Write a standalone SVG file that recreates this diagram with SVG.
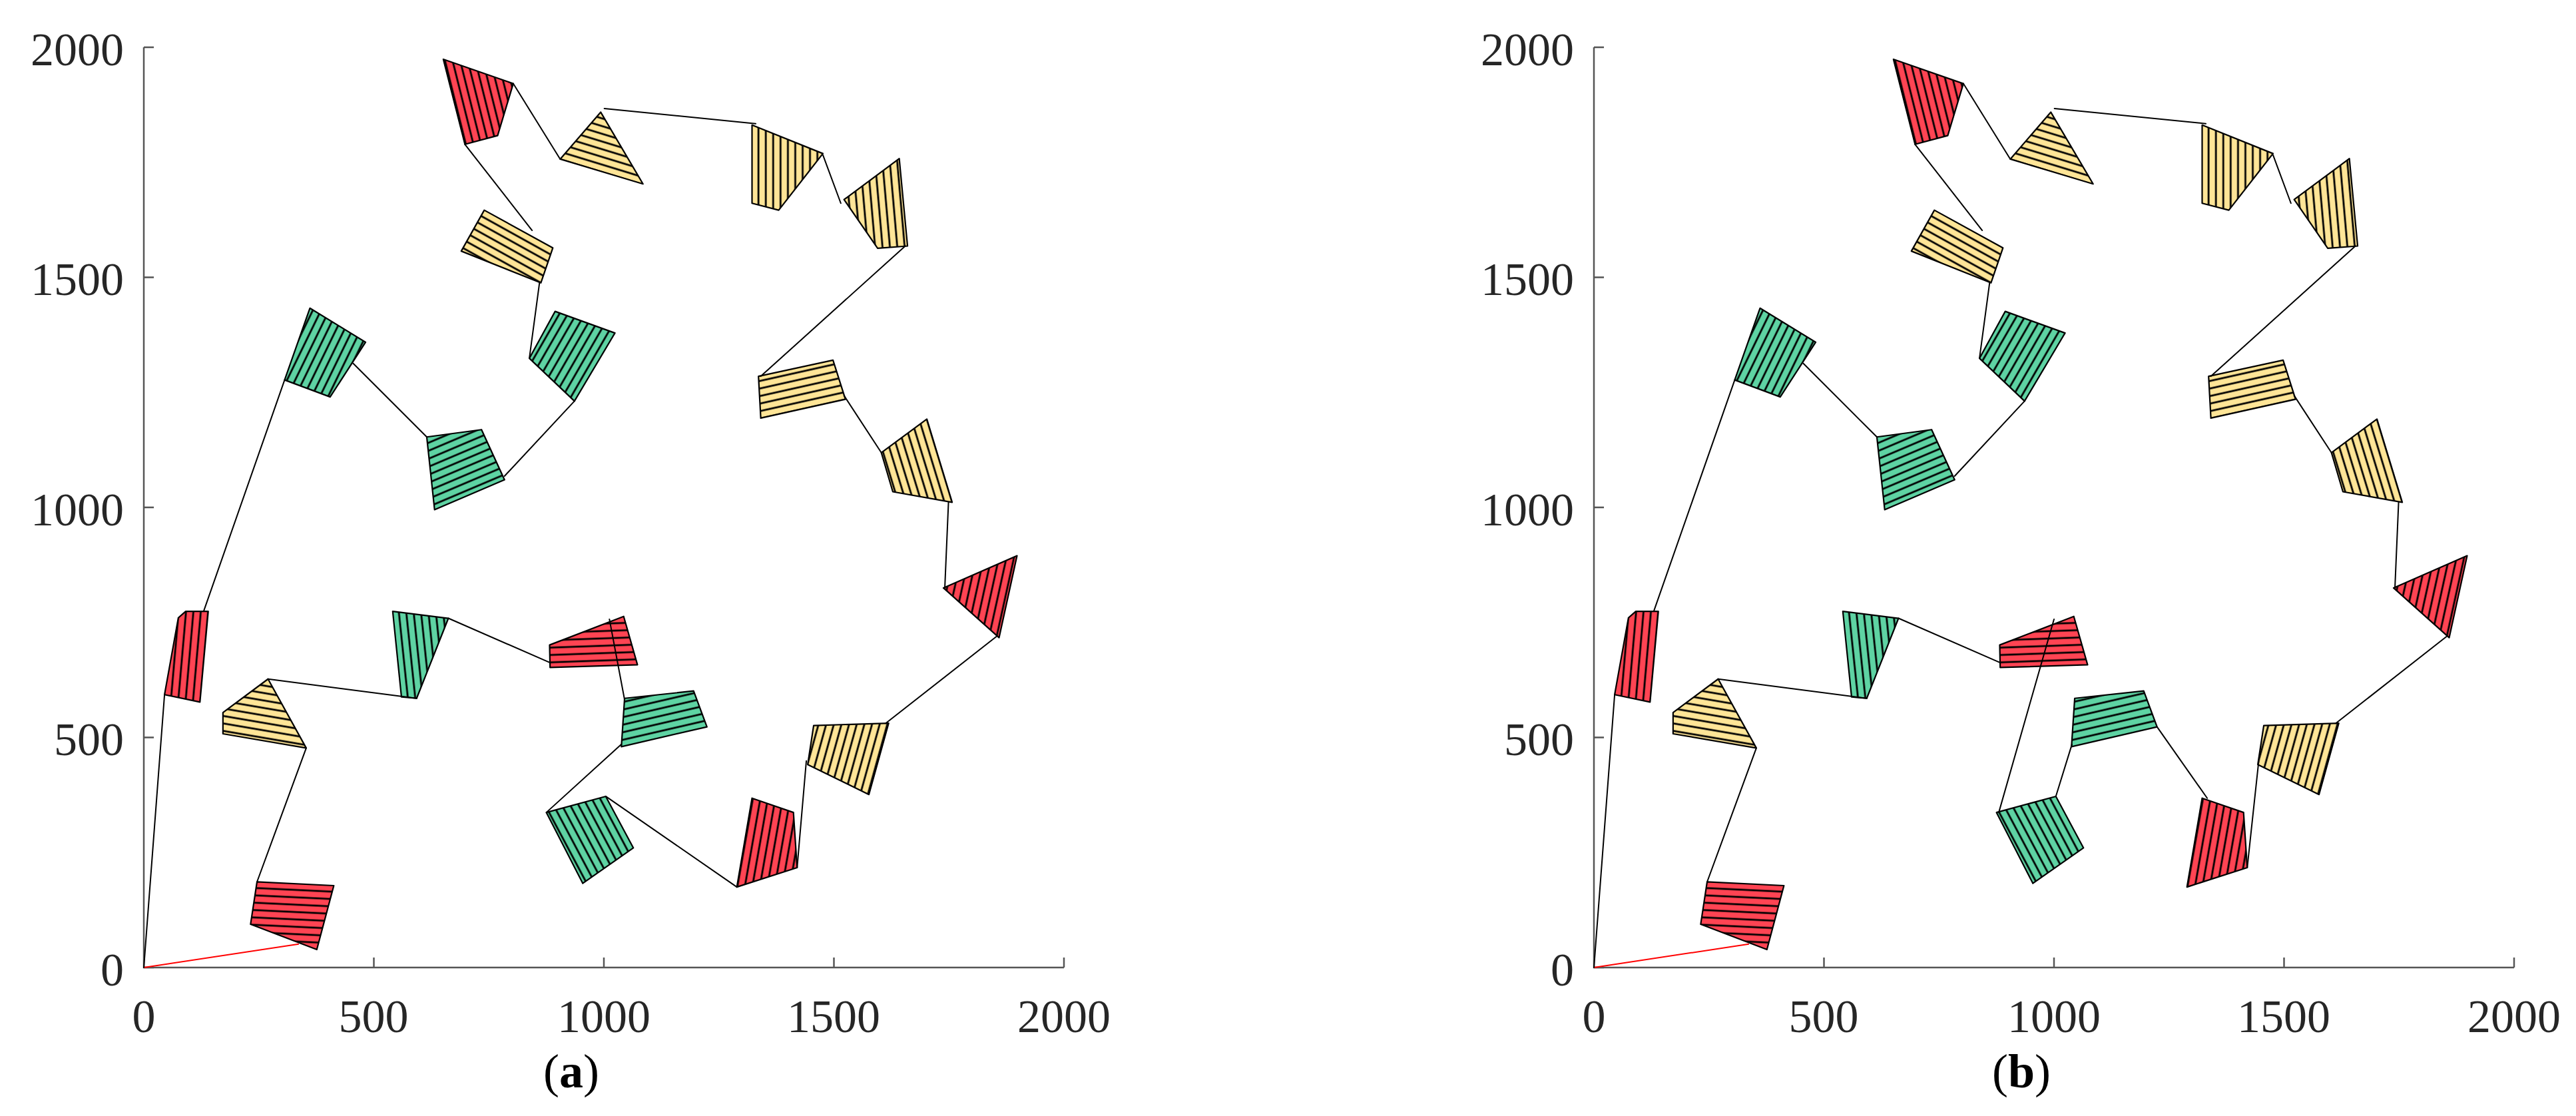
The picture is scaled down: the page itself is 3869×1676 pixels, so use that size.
<svg xmlns="http://www.w3.org/2000/svg" width="3869" height="1676" viewBox="0 0 3869 1676">
<style>
.ax{stroke:#555;stroke-width:3.6;fill:none}
.cn{stroke:#000;stroke-width:2.9;fill:none;stroke-linecap:round}
.rd{stroke:#f00;stroke-width:2.9;fill:none}
.ol{stroke:#000;stroke-width:3.2;stroke-linejoin:round}
.r{fill:#FF4453}
.y{fill:#FFE597}
.g{fill:#5ED3A3}
.tk{font-family:"Liberation Serif","Times New Roman",serif;font-size:70px;fill:#262626}
.lb{font-family:"Liberation Serif","Times New Roman",serif;font-size:72px;fill:#000}
</style>
<defs>
<path id="st" d="M-10 8H210" stroke="#000" stroke-width="4"/>
<pattern id="pR1" width="200" height="16" patternUnits="userSpaceOnUse" patternTransform="rotate(-2.7)"><use href="#st"/></pattern>
<pattern id="pY1" width="200" height="16" patternUnits="userSpaceOnUse" patternTransform="rotate(-9.7)"><use href="#st"/></pattern>
<pattern id="pR2" width="200" height="16" patternUnits="userSpaceOnUse" patternTransform="rotate(85)"><use href="#st"/></pattern>
<pattern id="pG1" width="200" height="16" patternUnits="userSpaceOnUse" patternTransform="rotate(64)"><use href="#st"/></pattern>
<pattern id="pG2" width="200" height="16" patternUnits="userSpaceOnUse" patternTransform="rotate(23)"><use href="#st"/></pattern>
<pattern id="pG3" width="200" height="16" patternUnits="userSpaceOnUse" patternTransform="rotate(60)"><use href="#st"/></pattern>
<pattern id="pY2" width="200" height="16" patternUnits="userSpaceOnUse" patternTransform="rotate(-29)"><use href="#st"/></pattern>
<pattern id="pR3" width="200" height="16" patternUnits="userSpaceOnUse" patternTransform="rotate(104)"><use href="#st"/></pattern>
<pattern id="pY3" width="200" height="16" patternUnits="userSpaceOnUse" patternTransform="rotate(-17)"><use href="#st"/></pattern>
<pattern id="pY4" width="200" height="16" patternUnits="userSpaceOnUse" patternTransform="rotate(90)"><use href="#st"/></pattern>
<pattern id="pY5" width="200" height="16" patternUnits="userSpaceOnUse" patternTransform="rotate(95)"><use href="#st"/></pattern>
<pattern id="pY6" width="200" height="16" patternUnits="userSpaceOnUse" patternTransform="rotate(12.6)"><use href="#st"/></pattern>
<pattern id="pY7" width="200" height="16" patternUnits="userSpaceOnUse" patternTransform="rotate(107)"><use href="#st"/></pattern>
<pattern id="pR4" width="200" height="16" patternUnits="userSpaceOnUse" patternTransform="rotate(77.6)"><use href="#st"/></pattern>
<pattern id="pY8" width="200" height="16" patternUnits="userSpaceOnUse" patternTransform="rotate(74.5)"><use href="#st"/></pattern>
<pattern id="pR5" width="200" height="16" patternUnits="userSpaceOnUse" patternTransform="rotate(80)"><use href="#st"/></pattern>
<pattern id="pG4" width="200" height="16" patternUnits="userSpaceOnUse" patternTransform="rotate(118)"><use href="#st"/></pattern>
<pattern id="pG5" width="200" height="16" patternUnits="userSpaceOnUse" patternTransform="rotate(13)"><use href="#st"/></pattern>
<pattern id="pR6" width="200" height="16" patternUnits="userSpaceOnUse" patternTransform="rotate(2)"><use href="#st"/></pattern>
<pattern id="pG6" width="200" height="16" patternUnits="userSpaceOnUse" patternTransform="rotate(96)"><use href="#st"/></pattern>
<g id="axes">
<path class="ax" d="M0 2000V0H2000"/>
<path class="ax" d="M0 0H21.7M0 500H21.7M0 1000H21.7M0 1500H21.7M0 2000H21.7M500 0V21.7M1000 0V21.7M1500 0V21.7M2000 0V21.7"/>
</g>
</defs>

<!-- Panel (a) -->
<g id="panel-a">
<g transform="translate(216 1453) scale(0.691 -0.691)">
<use href="#axes"/>
<g id="a-R1"><polygon class="r" points="246,186 413,178 376,39 232,94"/><polygon class="ol" fill="url(#pR1)" points="246,186 413,178 376,39 232,94"/></g>
<g id="a-Y1"><polygon class="y" points="270,627 172,554 172,508 353,477"/><polygon class="ol" fill="url(#pY1)" points="270,627 172,554 172,508 353,477"/></g>
<g id="a-R2"><polygon class="r" points="91,774 140,774 122,577 45,593 75,760"/><polygon class="ol" fill="url(#pR2)" points="91,774 140,774 122,577 45,593 75,760"/></g>
<g id="a-G1"><polygon class="g" points="361,1433 482,1359 405,1240 306,1277"/><polygon class="ol" fill="url(#pG1)" points="361,1433 482,1359 405,1240 306,1277"/></g>
<g id="a-G2"><polygon class="g" points="615,1153 734,1169 784,1060 632,995"/><polygon class="ol" fill="url(#pG2)" points="615,1153 734,1169 784,1060 632,995"/></g>
<g id="a-G3"><polygon class="g" points="894,1426 1024,1379 936,1231 838,1324"/><polygon class="ol" fill="url(#pG3)" points="894,1426 1024,1379 936,1231 838,1324"/></g>
<g id="a-Y2"><polygon class="y" points="740,1646 889,1564 863,1488 690,1557"/><polygon class="ol" fill="url(#pY2)" points="740,1646 889,1564 863,1488 690,1557"/></g>
<g id="a-R3"><polygon class="r" points="651,1974 803,1921 769,1808 698,1789"/><polygon class="ol" fill="url(#pR3)" points="651,1974 803,1921 769,1808 698,1789"/></g>
<g id="a-Y3"><polygon class="y" points="993,1859 1085,1703 905,1757"/><polygon class="ol" fill="url(#pY3)" points="993,1859 1085,1703 905,1757"/></g>
<g id="a-Y4"><polygon class="y" points="1322,1831 1476,1769 1380,1646 1322,1661"/><polygon class="ol" fill="url(#pY4)" points="1322,1831 1476,1769 1380,1646 1322,1661"/></g>
<g id="a-Y5"><polygon class="y" points="1522,1669 1642,1758 1660,1568 1595,1563"/><polygon class="ol" fill="url(#pY5)" points="1522,1669 1642,1758 1660,1568 1595,1563"/></g>
<g id="a-Y6"><polygon class="y" points="1336,1285 1498,1320 1525,1235 1341,1194"/><polygon class="ol" fill="url(#pY6)" points="1336,1285 1498,1320 1525,1235 1341,1194"/></g>
<g id="a-Y7"><polygon class="y" points="1702,1192 1757,1011 1628,1034 1603,1119"/><polygon class="ol" fill="url(#pY7)" points="1702,1192 1757,1011 1628,1034 1603,1119"/></g>
<g id="a-R4"><polygon class="r" points="1738,825 1898,895 1859,717"/><polygon class="ol" fill="url(#pR4)" points="1738,825 1898,895 1859,717"/></g>
<g id="a-Y8"><polygon class="y" points="1456,526 1619,531 1576,376 1443,441"/><polygon class="ol" fill="url(#pY8)" points="1456,526 1619,531 1576,376 1443,441"/></g>
<g id="a-R5"><polygon class="r" points="1322,368 1412,337 1420,217 1289,175"/><polygon class="ol" fill="url(#pR5)" points="1322,368 1412,337 1420,217 1289,175"/></g>
<g id="a-G4"><polygon class="g" points="875,337 1004,372 1064,260 954,183"/><polygon class="ol" fill="url(#pG4)" points="875,337 1004,372 1064,260 954,183"/></g>
<g id="a-G5"><polygon class="g" points="1045,585 1195,601 1224,523 1038,480"/><polygon class="ol" fill="url(#pG5)" points="1045,585 1195,601 1224,523 1038,480"/></g>
<g id="a-R6"><polygon class="r" points="1043,763 1073,658 883,652 882,701"/><polygon class="ol" fill="url(#pR6)" points="1043,763 1073,658 883,652 882,701"/></g>
<g id="a-G6"><polygon class="g" points="541,774 662,759 593,585 560,588"/><polygon class="ol" fill="url(#pG6)" points="541,774 662,759 593,585 560,588"/></g>
<g id="a-connectors">
<path class="rd" d="M0 0L337 51"/>
<path class="cn" d="M246 186L353 477M270 627L593 585M662 759L882 663M1012 757L1045 582M1038 485L875 337M1004 372L1289 175M1420 217L1440 449M1613 531L1854 720M1741 825L1749 1011M1603 1119L1522 1243M1341 1285L1655 1568M1515 1661L1476 1766M1330 1834L1001 1867M905 1757L803 1921M698 1789L844 1602M860 1488L838 1324M936 1231L784 1068M615 1153L455 1313M306 1277L130 774M45 593L0 0"/>
</g>
</g>
<g id="a-labels">
<g class="tk" text-anchor="end">
<text x="186" y="1480">0</text><text x="186" y="1134">500</text><text x="186" y="789">1000</text><text x="186" y="443">1500</text><text x="186" y="98">2000</text>
</g>
<g class="tk" text-anchor="middle">
<text x="216" y="1550">0</text><text x="561" y="1550">500</text><text x="907" y="1550">1000</text><text x="1252" y="1550">1500</text><text x="1598" y="1550">2000</text>
</g>
<text class="lb" x="858" y="1633" text-anchor="middle">(<tspan font-weight="bold">a</tspan>)</text>
</g>
</g>

<!-- Panel (b) -->
<g id="panel-b">
<g transform="translate(2394 1453) scale(0.691 -0.691)">
<use href="#axes"/>
<g id="b-R1"><polygon class="r" points="246,186 413,178 376,39 232,94"/><polygon class="ol" fill="url(#pR1)" points="246,186 413,178 376,39 232,94"/></g>
<g id="b-Y1"><polygon class="y" points="270,627 172,554 172,508 353,477"/><polygon class="ol" fill="url(#pY1)" points="270,627 172,554 172,508 353,477"/></g>
<g id="b-R2"><polygon class="r" points="91,774 140,774 122,577 45,593 75,760"/><polygon class="ol" fill="url(#pR2)" points="91,774 140,774 122,577 45,593 75,760"/></g>
<g id="b-G1"><polygon class="g" points="361,1433 482,1359 405,1240 306,1277"/><polygon class="ol" fill="url(#pG1)" points="361,1433 482,1359 405,1240 306,1277"/></g>
<g id="b-G2"><polygon class="g" points="615,1153 734,1169 784,1060 632,995"/><polygon class="ol" fill="url(#pG2)" points="615,1153 734,1169 784,1060 632,995"/></g>
<g id="b-G3"><polygon class="g" points="894,1426 1024,1379 936,1231 838,1324"/><polygon class="ol" fill="url(#pG3)" points="894,1426 1024,1379 936,1231 838,1324"/></g>
<g id="b-Y2"><polygon class="y" points="740,1646 889,1564 863,1488 690,1557"/><polygon class="ol" fill="url(#pY2)" points="740,1646 889,1564 863,1488 690,1557"/></g>
<g id="b-R3"><polygon class="r" points="651,1974 803,1921 769,1808 698,1789"/><polygon class="ol" fill="url(#pR3)" points="651,1974 803,1921 769,1808 698,1789"/></g>
<g id="b-Y3"><polygon class="y" points="993,1859 1085,1703 905,1757"/><polygon class="ol" fill="url(#pY3)" points="993,1859 1085,1703 905,1757"/></g>
<g id="b-Y4"><polygon class="y" points="1322,1831 1476,1769 1380,1646 1322,1661"/><polygon class="ol" fill="url(#pY4)" points="1322,1831 1476,1769 1380,1646 1322,1661"/></g>
<g id="b-Y5"><polygon class="y" points="1522,1669 1642,1758 1660,1568 1595,1563"/><polygon class="ol" fill="url(#pY5)" points="1522,1669 1642,1758 1660,1568 1595,1563"/></g>
<g id="b-Y6"><polygon class="y" points="1336,1285 1498,1320 1525,1235 1341,1194"/><polygon class="ol" fill="url(#pY6)" points="1336,1285 1498,1320 1525,1235 1341,1194"/></g>
<g id="b-Y7"><polygon class="y" points="1702,1192 1757,1011 1628,1034 1603,1119"/><polygon class="ol" fill="url(#pY7)" points="1702,1192 1757,1011 1628,1034 1603,1119"/></g>
<g id="b-R4"><polygon class="r" points="1738,825 1898,895 1859,717"/><polygon class="ol" fill="url(#pR4)" points="1738,825 1898,895 1859,717"/></g>
<g id="b-Y8"><polygon class="y" points="1456,526 1619,531 1576,376 1443,441"/><polygon class="ol" fill="url(#pY8)" points="1456,526 1619,531 1576,376 1443,441"/></g>
<g id="b-R5"><polygon class="r" points="1322,368 1412,337 1420,217 1289,175"/><polygon class="ol" fill="url(#pR5)" points="1322,368 1412,337 1420,217 1289,175"/></g>
<g id="b-G4"><polygon class="g" points="875,337 1004,372 1064,260 954,183"/><polygon class="ol" fill="url(#pG4)" points="875,337 1004,372 1064,260 954,183"/></g>
<g id="b-G5"><polygon class="g" points="1045,585 1195,601 1224,523 1038,480"/><polygon class="ol" fill="url(#pG5)" points="1045,585 1195,601 1224,523 1038,480"/></g>
<g id="b-R6"><polygon class="r" points="1043,763 1073,658 883,652 882,701"/><polygon class="ol" fill="url(#pR6)" points="1043,763 1073,658 883,652 882,701"/></g>
<g id="b-G6"><polygon class="g" points="541,774 662,759 593,585 560,588"/><polygon class="ol" fill="url(#pG6)" points="541,774 662,759 593,585 560,588"/></g>
<g id="b-connectors">
<path class="rd" d="M0 0L337 51"/>
<path class="cn" d="M246 186L353 477M270 627L593 585M662 759L882 663M1000 757L880 337M1004 372L1039 485M1224 523L1333 368M1420 217L1445 449M1613 531L1854 720M1741 825L1749 1011M1603 1119L1522 1243M1341 1285L1655 1568M1515 1661L1476 1766M1330 1834L1001 1867M905 1757L803 1921M698 1789L844 1602M860 1488L838 1324M936 1231L784 1068M615 1153L455 1313M306 1277L130 774M45 593L0 0"/>
</g>
</g>
<g id="b-labels">
<g class="tk" text-anchor="end">
<text x="2364" y="1480">0</text><text x="2364" y="1134">500</text><text x="2364" y="789">1000</text><text x="2364" y="443">1500</text><text x="2364" y="98">2000</text>
</g>
<g class="tk" text-anchor="middle">
<text x="2394" y="1550">0</text><text x="2739" y="1550">500</text><text x="3085" y="1550">1000</text><text x="3430" y="1550">1500</text><text x="3776" y="1550">2000</text>
</g>
<text class="lb" x="3036" y="1633" text-anchor="middle">(<tspan font-weight="bold">b</tspan>)</text>
</g>
</g>
</svg>
